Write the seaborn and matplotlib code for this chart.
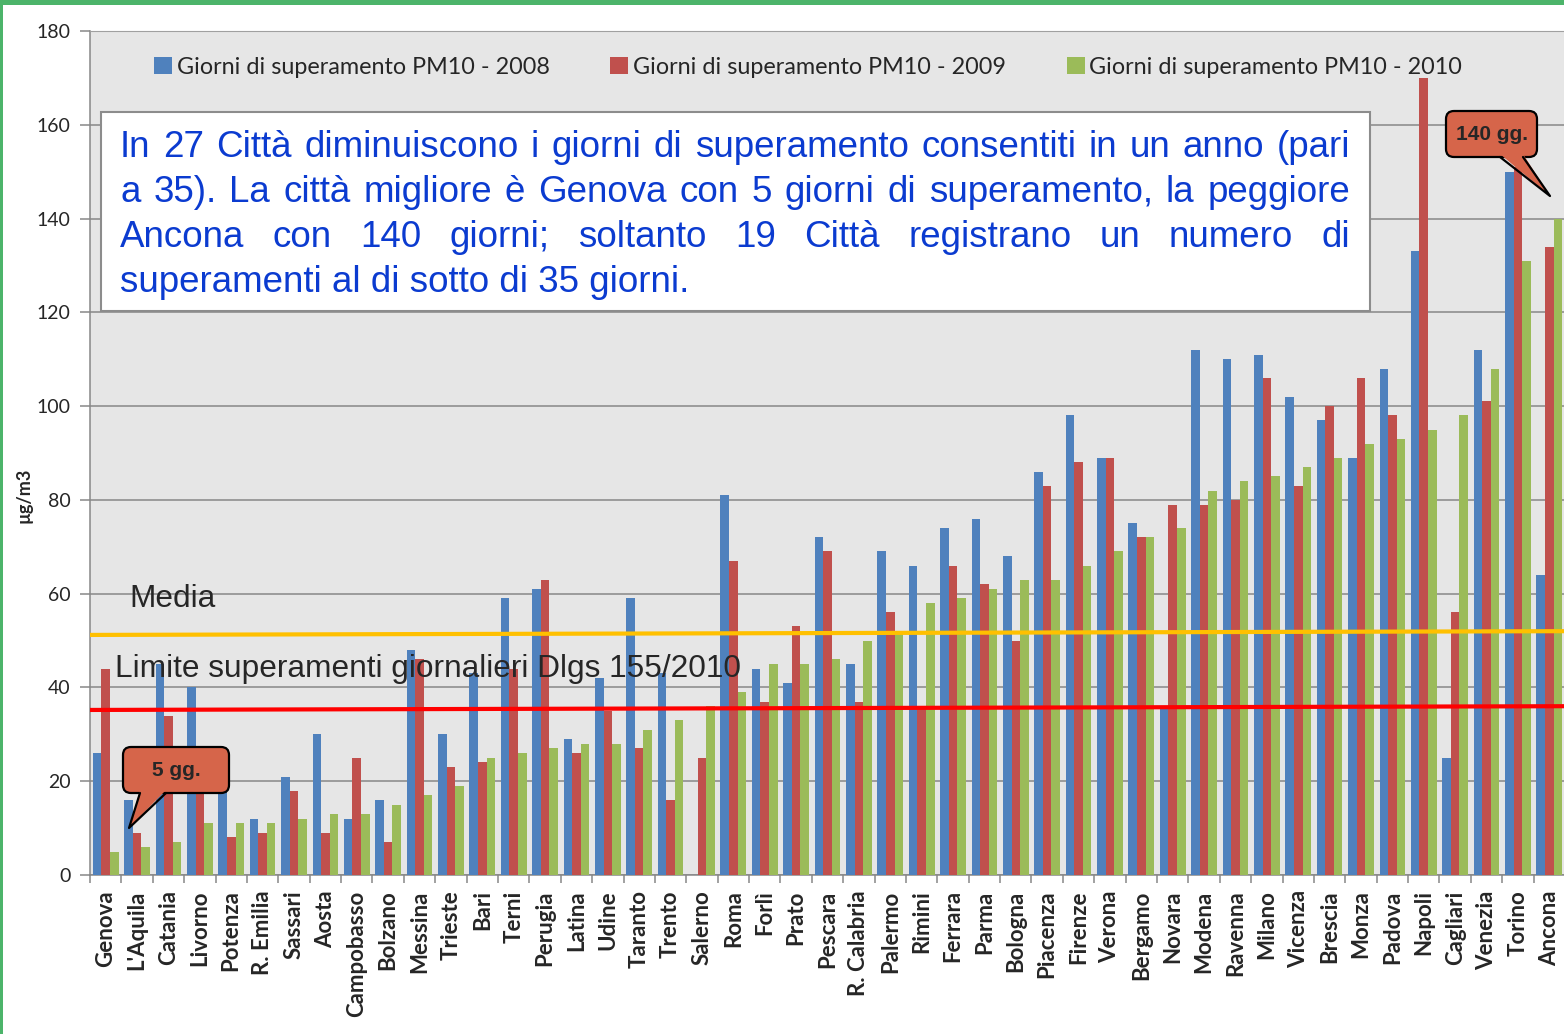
import numpy as np
import pandas as pd
import matplotlib
matplotlib.use("Agg")
import matplotlib.pyplot as plt
import seaborn as sns
from matplotlib.patches import Patch, FancyBboxPatch, Polygon, Rectangle
from matplotlib.lines import Line2D
from matplotlib.transforms import IdentityTransform

# ---- data ----
cities = ["Genova", "L'Aquila", "Catania", "Livorno", "Potenza", "R. Emilia", "Sassari",
          "Aosta", "Campobasso", "Bolzano", "Messina", "Trieste", "Bari", "Terni",
          "Perugia", "Latina", "Udine", "Taranto", "Trento", "Salerno", "Roma", "Forlì",
          "Prato", "Pescara", "R. Calabria", "Palermo", "Rimini", "Ferrara", "Parma",
          "Bologna", "Piacenza", "Firenze", "Verona", "Bergamo", "Novara", "Modena",
          "Ravenna", "Milano", "Vicenza", "Brescia", "Monza", "Padova", "Napoli",
          "Cagliari", "Venezia", "Torino", "Ancona"]
giorni_2008 = [26, 16, 45, 40, 27, 12, 21, 30, 12, 16, 48, 30, 43, 59, 61, 29, 42, 59, 43, 0,
               81, 44, 41, 72, 45, 69, 66, 74, 76, 68, 86, 98, 89, 75, 36, 112, 110, 111, 102,
               97, 89, 108, 133, 25, 112, 150, 64]
giorni_2009 = [44, 9, 34, 18, 8, 9, 18, 9, 25, 7, 46, 23, 24, 44, 63, 26, 35, 27, 16, 25,
               67, 37, 53, 69, 37, 56, 36, 66, 62, 50, 83, 88, 89, 72, 79, 79, 80, 106, 83,
               100, 106, 98, 170, 56, 101, 151, 134]
giorni_2010 = [5, 6, 7, 11, 11, 11, 12, 13, 13, 15, 17, 19, 25, 26, 27, 28, 28, 31, 33, 36,
               39, 45, 45, 46, 50, 52, 58, 59, 61, 63, 63, 66, 69, 72, 74, 82, 84, 85, 87,
               89, 92, 93, 95, 98, 108, 131, 140]
series = ["Giorni di superamento PM10 - 2008",
          "Giorni di superamento PM10 - 2009",
          "Giorni di superamento PM10 - 2010"]
colors = ["#4f81bd", "#c0504d", "#9bbb59"]
y_ticks = [0, 20, 40, 60, 80, 100, 120, 140, 160, 180]
media = [51.2, 52.0]      # hand-drawn line, slightly tilted
limite = [35.2, 36.0]

info_lines = ["In 27 Città diminuiscono i giorni di superamento consentiti in un anno (pari",
              "a 35). La città migliore è Genova con 5 giorni di superamento, la peggiore",
              "Ancona con 140 giorni; soltanto 19 Città registrano un numero di",
              "superamenti al di sotto di 35 giorni."]

W, H = 1564, 1034
PX = IdentityTransform()


def fx(x):
    return x / W


def fy(y):
    return 1 - y / H


sns.set_style("white")
plt.rcParams['font.family'] = ['Lato', 'DejaVu Sans']

fig = plt.figure(figsize=(W / 100, H / 100), dpi=100)
fig.patch.set_facecolor("white")
ax = fig.add_axes([fx(90), fy(875), (1565 - 90) / W, (875 - 31) / H])

df = pd.DataFrame({
    "Città": cities * 3,
    "Giorni": giorni_2008 + giorni_2009 + giorni_2010,
    "Serie": [series[0]] * len(cities) + [series[1]] * len(cities) + [series[2]] * len(cities),
})
sns.barplot(data=df, x="Città", y="Giorni", hue="Serie", palette=colors, saturation=1,
            width=0.82, ax=ax, legend=False, zorder=3, linewidth=0)

ax.set_facecolor("#e6e6e6")
ax.set_xlim(-0.5, len(cities) - 0.5)
ax.set_ylim(0, 180)
ax.set_yticks(y_ticks)
ax.set_axisbelow(True)
ax.grid(axis="y", color="#878787", linewidth=1.1, zorder=0)
ax.grid(axis="x", visible=False)
for side in ["left", "bottom"]:
    ax.spines[side].set_color("#878787")
    ax.spines[side].set_linewidth(1.1)
ax.spines["top"].set_color("#a0a0a0")
ax.spines["top"].set_linewidth(0.8)
ax.spines["right"].set_visible(False)

ax.tick_params(axis="y", length=7, width=1.1, color="#878787", pad=7, labelsize=14,
               left=True)
ax.set_xticks(range(len(cities)))
ax.set_xticklabels(cities, rotation=90, fontweight="bold", fontsize=16)
ax.tick_params(axis="x", which="major", length=0, pad=11)
ax.set_xticks(np.arange(-0.5, len(cities), 1), minor=True)
ax.tick_params(axis="x", which="minor", length=6, width=1.1, color="#878787", bottom=True)

ax.set_xlabel("")
ax.set_ylabel("µg/m3", fontweight="bold", fontsize=13)
ax.yaxis.set_label_coords((33 - 90) / 1475, 0.45)

# reference lines
ax.plot([-0.5, len(cities) - 0.5], media, color="#ffc000", lw=3, zorder=4)
ax.plot([-0.5, len(cities) - 0.5], limite, color="#ff0000", lw=3, zorder=4)

# legend
handles = [Patch(facecolor=c, edgecolor="none", label=s) for c, s in zip(colors, series)]
ax.legend(handles=handles, loc="center", bbox_to_anchor=(fx(808), fy(67)),
          bbox_transform=fig.transFigure, ncol=3, frameon=False, fontsize=16.8,
          handlelength=0.78, handleheight=0.78, handletextpad=0.2, columnspacing=2.6,
          borderaxespad=0)

arial = ['Liberation Sans', 'DejaVu Sans']
fig.text(129, H - 607, "Media", fontsize=22.8, family=arial, va="baseline",
         transform=PX, zorder=5)
fig.text(115, H - 677, "Limite superamenti giornalieri Dlgs 155/2010", fontsize=22.8,
         family=arial, va="baseline", transform=PX, zorder=5)

# text box with justified lines
fig.add_artist(Rectangle((101, H - 311), 1269, 199, facecolor="white", edgecolor="#8c8c8c",
                         lw=1.5, transform=PX, zorder=4))
renderer = fig.canvas.get_renderer()
x_left, x_right = 120, 1350
for i, line in enumerate(info_lines):
    base = 157 + 45 * i
    if i == len(info_lines) - 1:
        fig.text(x_left, H - base, line, fontsize=26.5, family=arial, color="#0b3bd0",
                 va="baseline", transform=PX, zorder=6)
        continue
    words = line.split(" ")
    texts = [fig.text(0, H - base, w, fontsize=26.5, family=arial, color="#0b3bd0",
                      va="baseline", transform=PX, zorder=6) for w in words]
    widths = [t.get_window_extent(renderer).width for t in texts]
    gap = (x_right - x_left - sum(widths)) / (len(words) - 1)
    x = x_left
    for t, w in zip(texts, widths):
        t.set_x(x)
        x += w + gap


def bubble(x0, y0, x1, y1, tail, text, fontsize):
    fill = "#d6654a"
    box = FancyBboxPatch((x0, H - y1), x1 - x0, y1 - y0,
                         boxstyle="round,pad=0,rounding_size=8", facecolor=fill,
                         edgecolor="black", lw=1.6, transform=PX, zorder=7)
    fig.add_artist(box)
    (bx1, bx2, tx, ty) = tail
    fig.add_artist(Polygon([(bx1, H - y1 + 3), (tx, H - ty), (bx2, H - y1 + 3)], closed=True,
                           facecolor=fill, edgecolor="none", transform=PX, zorder=8))
    fig.add_artist(Line2D([bx1, tx, bx2], [H - y1, H - ty, H - y1], color="black", lw=1.6,
                          transform=PX, zorder=9))
    fig.text((x0 + x1) / 2, H - (y0 + y1) / 2, text, fontsize=fontsize, fontweight="bold",
             family=arial, ha="center", va="center", transform=PX, zorder=10)


bubble(123, 747, 229, 793, (140, 166, 129, 828), "5 gg.", 15)
bubble(1446, 111, 1537, 157, (1500, 1523, 1550, 196), "140 gg.", 15)

# green frame of the slide
fig.add_artist(Rectangle((0, H - 5), W, 5, facecolor="#4cb46a", edgecolor="none",
                         transform=PX, zorder=11))
fig.add_artist(Rectangle((0, 0), 3, H, facecolor="#4cb46a", edgecolor="none",
                         transform=PX, zorder=11))

fig.savefig("out.png", dpi=100)
